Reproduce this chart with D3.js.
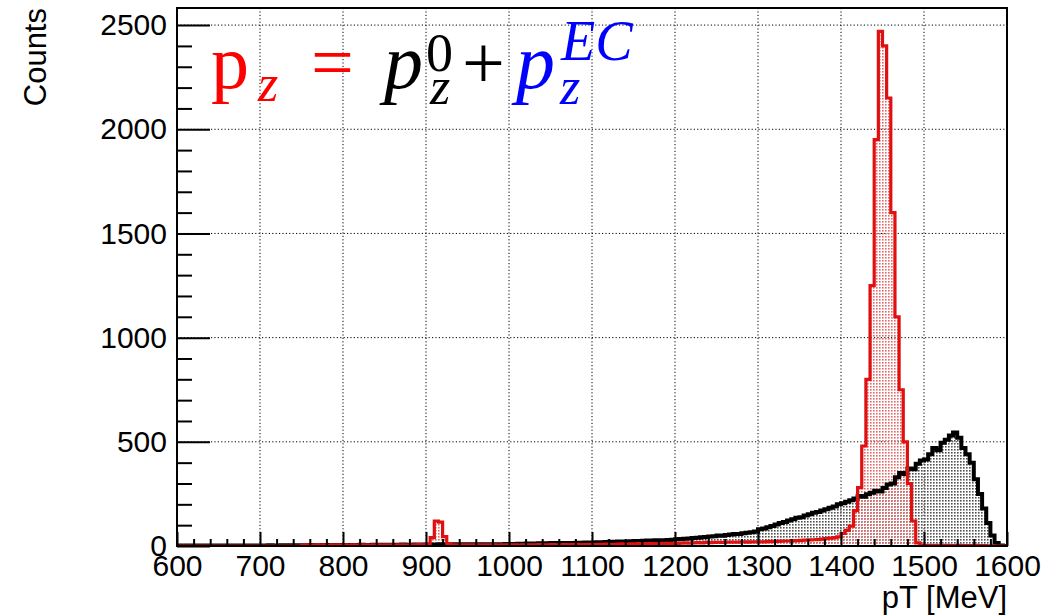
<!DOCTYPE html>
<html>
<head>
<meta charset="utf-8">
<style>
  body { margin: 0; background: #fff; }
</style>
</head>
<body>
<div id="chart"></div>
<script src="https://cdn.jsdelivr.net/npm/d3@7"></script>
<script>
// histogram binning (MeV)
const binStart = 600;
const binWidth = 5;

// black histogram, 5 MeV bins from 600 to 1600
const blackCounts = [
  2,1,3,2,2,3,1,2,3,2,2,3,2,3,2,3,3,2,3,3,
  3,3,4,3,3,4,3,4,4,3,4,4,5,4,4,5,4,5,5,4,
  5,5,4,5,6,5,5,6,5,6,6,5,6,6,7,6,6,7,6,7,
  7,6,7,8,7,7,8,7,8,8,7,8,8,9,8,9,9,8,9,10,
  10,10,11,11,12,11,12,13,12,13,14,13,14,15,14,15,16,15,17,16,
  17,18,17,19,20,19,21,22,21,23,24,23,25,26,25,27,28,27,29,30,
  32,33,35,36,38,40,42,43,45,47,50,49,53,55,57,58,61,63,66,70,
  80,84,90,96,103,110,115,122,128,135,138,146,152,160,163,170,176,183,190,200,
  205,212,220,228,240,236,248,255,265,262,278,295,300,330,350,345,372,368,395,410,
  415,440,470,460,495,510,530,545,520,470,440,400,320,250,180,110,50,15,3,0
];

// red histogram, same bins
const redCounts = [
  0,0,0,0,0,0,0,0,0,0,0,0,0,0,0,0,0,0,0,0,
  0,0,0,0,0,0,0,0,0,0,4,5,3,6,4,5,2,6,5,4,
  5,3,6,4,5,6,3,5,6,4,6,5,3,6,5,4,6,5,7,4,
  8,40,120,115,45,10,5,4,6,5,4,5,6,4,5,6,5,4,6,5,
  5,6,4,5,6,5,6,7,5,6,7,6,5,7,6,7,8,6,7,8,
  7,8,7,9,8,8,9,10,9,10,9,11,10,11,12,11,12,13,12,13,
  13,14,15,14,15,16,15,17,16,17,18,17,18,19,18,19,20,19,20,20,
  20,20,22,21,22,23,24,24,25,26,27,28,29,30,31,33,35,38,40,44,
  60,75,95,170,280,480,800,1250,1950,2470,2400,2150,1600,1100,750,500,300,120,15,4,
  3,3,2,3,2,3,2,2,3,2,2,2,3,2,2,1,1,0,0,0
];

const xTickValues = [600, 700, 800, 900, 1000, 1100, 1200, 1300, 1400, 1500, 1600];
const yTickValues = [0, 500, 1000, 1500, 2000, 2500];

const W = 1056, H = 616;
const margin = { left: 177, right: 49, top: 8, bottom: 70 };
const pw = W - margin.left - margin.right;
const ph = H - margin.top - margin.bottom;
const sans = "'Liberation Sans', Arial, sans-serif";
const serif = "'Liberation Serif', 'Times New Roman', serif";

const svg = d3.select("#chart").append("svg")
  .attr("width", W).attr("height", H);

const defs = svg.append("defs");
function dots(id, col) {
  const p = defs.append("pattern").attr("id", id)
    .attr("width", 3).attr("height", 3)
    .attr("patternUnits", "userSpaceOnUse");
  p.append("rect").attr("x", 0).attr("y", 0).attr("width", 1.6).attr("height", 1.6).attr("fill", col);
}
dots("blackDots", "#505050");
dots("redDots", "#e46a6a");
defs.append("clipPath").attr("id", "plotClip")
  .append("rect").attr("width", pw).attr("height", ph);

const g = svg.append("g").attr("transform", `translate(${margin.left},${margin.top})`);

const x = d3.scaleLinear().domain([600, 1600]).range([0, pw]);
const y = d3.scaleLinear().domain([0, 2582]).range([ph, 0]);

// grid
g.append("g").selectAll("line").data(xTickValues.slice(1, -1)).join("line")
  .attr("x1", d => x(d)).attr("x2", d => x(d))
  .attr("y1", 0).attr("y2", ph)
  .attr("stroke", "#000").attr("stroke-width", 1).attr("stroke-dasharray", "1.2,2.2");
g.append("g").selectAll("line").data(yTickValues.slice(1)).join("line")
  .attr("x1", 0).attr("x2", pw)
  .attr("y1", d => y(d)).attr("y2", d => y(d))
  .attr("stroke", "#000").attr("stroke-width", 1).attr("stroke-dasharray", "1.2,2.2");

function toPoints(counts) {
  const pts = counts.map((c, i) => [binStart + i * binWidth, c]);
  pts.push([binStart + counts.length * binWidth, counts[counts.length - 1]]);
  return pts;
}
const area = d3.area().curve(d3.curveStepAfter)
  .x(d => x(d[0])).y0(y(0)).y1(d => y(d[1]));
const line = d3.line().curve(d3.curveStepAfter)
  .x(d => x(d[0])).y(d => y(d[1]));

const hist = g.append("g").attr("clip-path", "url(#plotClip)");
const blackPts = toPoints(blackCounts);
const redPts = toPoints(redCounts);
hist.append("path").attr("d", area(blackPts)).attr("fill", "url(#blackDots)");
hist.append("path").attr("d", area(redPts)).attr("fill", "url(#redDots)");
hist.append("path").attr("d", line(blackPts)).attr("fill", "none")
  .attr("stroke", "#000").attr("stroke-width", 4);
hist.append("path").attr("d", line(redPts)).attr("fill", "none")
  .attr("stroke", "#e01010").attr("stroke-width", 3.2);

// axes
const minorX = d3.range(600, 1601, 20).filter(v => v % 100 !== 0);
const minorY = d3.range(0, 2582, 100).filter(v => v % 500 !== 0);

g.append("g").attr("transform", `translate(0,${ph})`)
  .call(d3.axisBottom(x).tickValues(xTickValues).tickSizeInner(-14).tickSizeOuter(0).tickPadding(9).tickFormat(d3.format("d")));
g.append("g").attr("transform", `translate(0,${ph})`)
  .call(d3.axisBottom(x).tickValues(minorX).tickSize(-7).tickFormat(""));
g.append("g")
  .call(d3.axisLeft(y).tickValues(yTickValues).tickSizeInner(-33).tickSizeOuter(0).tickPadding(10).tickFormat(d3.format("d")));
g.append("g")
  .call(d3.axisLeft(y).tickValues(minorY).tickSize(-15).tickFormat(""));

svg.selectAll(".tick line").attr("stroke", "#000").attr("stroke-width", 2);
svg.selectAll(".tick text").attr("font-size", 30).attr("fill", "#000")
  .style("font-family", sans);
svg.selectAll(".domain").remove();

// frame
g.append("rect").attr("width", pw).attr("height", ph)
  .attr("fill", "none").attr("stroke", "#000").attr("stroke-width", 2);

// axis titles
svg.append("text").attr("x", margin.left + pw).attr("y", 608)
  .attr("text-anchor", "end").attr("font-size", 31).style("font-family", sans).text("pT [MeV]");
svg.append("text").attr("transform", "translate(46,8) rotate(-90)")
  .attr("text-anchor", "end").attr("font-size", 31).style("font-family", sans).text("Counts");

// formula
const f = svg.append("g");
const red = "#ff0000", blue = "#0000ff";
function piece(tx, ty, size, italic, col, s) {
  return f.append("text").attr("x", tx).attr("y", ty)
    .attr("font-size", size).attr("fill", col)
    .style("font-family", serif).style("font-style", italic ? "italic" : "normal")
    .text(s);
}
piece(211, 88, 76, false, red, "p");
piece(258, 101, 52, true, red, "z");
piece(311, 88, 76, false, red, "=").attr("textLength", 50);
piece(384, 88, 78, true, "#000", "p");
piece(426, 71, 54, false, "#000", "0");
piece(430, 104, 52, true, "#000", "z");
piece(462, 88, 76, false, "#000", "+").attr("textLength", 50);
piece(516, 88, 78, true, blue, "p");
piece(561, 60, 56, true, blue, "EC");
piece(560, 104, 52, true, blue, "z");
</script>
</body>
</html>
